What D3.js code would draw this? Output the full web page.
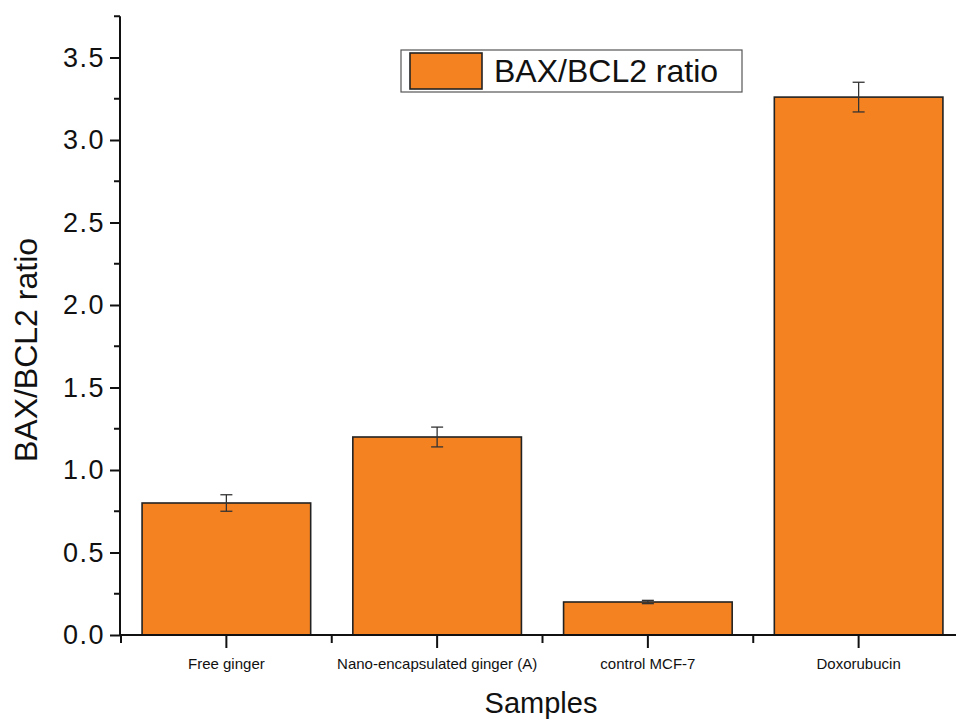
<!DOCTYPE html>
<html><head><meta charset="utf-8">
<script src="https://cdn.jsdelivr.net/npm/d3@7/dist/d3.min.js"></script>
<style>
body{margin:0;background:#fff}
svg{display:block}
</style></head>
<body><svg id="c" width="956" height="719"></svg>
<script>
const categories = ["Free ginger","Nano-encapsulated ginger (A)","control MCF-7","Doxorubucin"];
const values = [0.80, 1.20, 0.20, 3.26];
const errors = [0.05, 0.06, 0.01, 0.09];
const yTicks = [0.0,0.5,1.0,1.5,2.0,2.5,3.0,3.5];
const yMinorTicks = [0.25,0.75,1.25,1.75,2.25,2.75,3.25,3.75];
const seriesName = "BAX/BCL2 ratio";
const xTitle = "Samples";
const yTitle = "BAX/BCL2 ratio";

const svg = d3.select("#c");
const x0 = 121, x1 = 964, yBase = 635;
const x = d3.scaleBand().domain(categories).range([x0, x1]).paddingInner(0.2).paddingOuter(0.1);
const y = d3.scaleLinear().domain([0, 3.75]).range([yBase, yBase - 3.75*165]);
const orange = "#f58220";
const sans = "'Liberation Sans',Arial,Helvetica,sans-serif";

// bars
svg.append("g").selectAll("rect").data(categories).join("rect")
  .attr("x", d => x(d)).attr("width", x.bandwidth())
  .attr("y", (d,i) => y(values[i])).attr("height", (d,i) => y(0) - y(values[i]))
  .attr("fill", orange).attr("stroke", "#222").attr("stroke-width", 1.6);

// error bars
const eg = svg.append("g").attr("stroke", "#333").attr("stroke-width", 1.3);
categories.forEach((c,i) => {
  const cx = x(c) + x.bandwidth()/2;
  const top = y(values[i] + errors[i]), bot = y(values[i] - errors[i]);
  eg.append("line").attr("x1", cx).attr("x2", cx).attr("y1", top).attr("y2", bot);
  eg.append("line").attr("x1", cx-6).attr("x2", cx+6).attr("y1", top).attr("y2", top);
  eg.append("line").attr("x1", cx-6).attr("x2", cx+6).attr("y1", bot).attr("y2", bot);
});

// y axis
const ya = svg.append("g").attr("transform", `translate(${x0-1},0)`)
  .call(d3.axisLeft(y).tickValues(yTicks).tickSize(10).tickPadding(5).tickFormat(d3.format(".1f")));
ya.select(".domain").attr("stroke", "#111").attr("stroke-width", 2).attr("d", `M0,${y(3.75)}V${yBase+1}`);
ya.selectAll(".tick line").attr("stroke", "#111").attr("stroke-width", 2);
ya.selectAll(".tick text").attr("font-family", sans).attr("font-size", 27).attr("fill", "#111").attr("letter-spacing", 1.5);
svg.append("g").selectAll("line").data(yMinorTicks).join("line")
  .attr("x1", x0-1).attr("x2", x0-7).attr("y1", d => y(d)).attr("y2", d => y(d))
  .attr("stroke", "#111").attr("stroke-width", 2);

// x axis
const xa = svg.append("g").attr("transform", `translate(0,${yBase})`)
  .call(d3.axisBottom(x).tickSize(13).tickPadding(10));
xa.select(".domain").attr("stroke", "#111").attr("stroke-width", 2).attr("d", `M${x0-2},0H956`);
xa.selectAll(".tick line").attr("stroke", "#111").attr("stroke-width", 2);
xa.selectAll(".tick text").attr("font-family", sans).attr("font-size", 15).attr("fill", "#111");
const step = x.step();
const xMinor = d3.range(0, categories.length).map(i => x0 + i*step);
svg.append("g").selectAll("line").data(xMinor).join("line")
  .attr("x1", d => d).attr("x2", d => d).attr("y1", yBase).attr("y2", yBase+8)
  .attr("stroke", "#111").attr("stroke-width", 2);

// titles
svg.append("text").attr("x", 541).attr("y", 713).attr("text-anchor", "middle")
  .attr("font-family", sans).attr("font-size", 29).attr("fill", "#111").text(xTitle);
svg.append("text").attr("transform", `translate(37,350) rotate(-90)`).attr("text-anchor", "middle")
  .attr("font-family", sans).attr("font-size", 32).attr("fill", "#111").text(yTitle);

// legend
const lg = svg.append("g");
lg.append("rect").attr("x", 401).attr("y", 50).attr("width", 341).attr("height", 42)
  .attr("fill", "#fff").attr("stroke", "#555").attr("stroke-width", 1.2);
lg.append("rect").attr("x", 410).attr("y", 53).attr("width", 72).attr("height", 36)
  .attr("fill", orange).attr("stroke", "#222").attr("stroke-width", 1.6);
lg.append("text").attr("x", 494).attr("y", 82).attr("font-family", sans)
  .attr("font-size", 32).attr("fill", "#111").text(seriesName);
</script></body></html>
